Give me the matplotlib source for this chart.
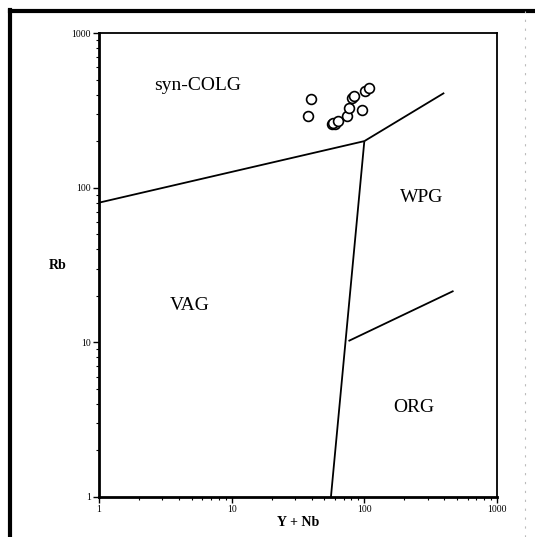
import matplotlib
matplotlib.use("Agg")
import matplotlib.pyplot as plt
from matplotlib.lines import Line2D

plt.rcParams['font.family'] = ['Liberation Serif', 'DejaVu Serif']

# Sample data (Y+Nb, Rb)
y_nb = [39.6, 37.4, 56.7, 60.0, 58.0, 63.0, 73.6, 76.5, 81.0, 83.5, 95.5, 102.0, 108.0]
rb   = [372, 290, 260, 258, 262, 269, 290, 328, 378, 391, 317, 423, 439]

# Discrimination boundaries (Pearce et al. 1984)
syncolg_vag_x = [1, 100]
syncolg_vag_y = [80, 200]
syncolg_wpg_x = [100, 400]
syncolg_wpg_y = [200, 410]
vag_wpg_x = [56, 100]
vag_wpg_y = [1, 200]
wpg_org_x = [76, 470]
wpg_org_y = [10.2, 21.5]

field_labels = ["syn-COLG", "WPG", "VAG", "ORG"]
field_x = [5.5, 272, 4.8, 236]
field_y = [460, 86, 17.4, 3.8]

fig = plt.figure(figsize=(5.35, 5.37), dpi=100)
ax = fig.add_axes([0.185, 0.0745, 0.744, 0.864])
ax.set_xscale('log')
ax.set_yscale('log')
ax.set_xlim(1, 1000)
ax.set_ylim(1, 1000)

for xs, ys in [(syncolg_vag_x, syncolg_vag_y), (syncolg_wpg_x, syncolg_wpg_y),
               (vag_wpg_x, vag_wpg_y), (wpg_org_x, wpg_org_y)]:
    ax.plot(xs, ys, color='black', lw=1.3, solid_capstyle='butt')

ax.scatter(y_nb, rb, s=50, facecolors='white', edgecolors='black', linewidths=1.2, zorder=3)

for t, x, y in zip(field_labels, field_x, field_y):
    ax.text(x, y, t, fontsize=14, ha='center', va='center')

ax.set_xticks([1, 10, 100, 1000])
ax.set_xticklabels(['1', '10', '100', '1000'])
ax.set_yticks([1, 10, 100, 1000])
ax.set_yticklabels(['1', '10', '100', '1000'])
ax.tick_params(axis='both', which='major', direction='out', length=4, width=1, labelsize=7, pad=2)
ax.tick_params(axis='both', which='minor', direction='out', length=2, width=0.8)
ax.tick_params(top=False, right=False, which='both')
for side in ['left', 'bottom']:
    ax.spines[side].set_linewidth(2.0)
for side in ['top', 'right']:
    ax.spines[side].set_linewidth(1.3)

ax.set_xlabel('Y + Nb', fontsize=10, fontweight='bold', labelpad=1)
ax.text(-0.105, 0.5, 'Rb', transform=ax.transAxes, fontsize=10, fontweight='bold',
        ha='center', va='center')

# outer frame (thick left and top border, faint right edge)
fig.add_artist(Line2D([10/535, 10/535], [0, 1 - 10/537], transform=fig.transFigure,
                      color='black', lw=3))
fig.add_artist(Line2D([10/535, 1], [1 - 11/537, 1 - 11/537], transform=fig.transFigure,
                      color='black', lw=3))
fig.add_artist(Line2D([525/535, 525/535], [0, 1 - 11/537], transform=fig.transFigure,
                      color='#bbbbbb', lw=0.8, ls=(0, (2, 6))))

fig.savefig('out.png', dpi=100)
